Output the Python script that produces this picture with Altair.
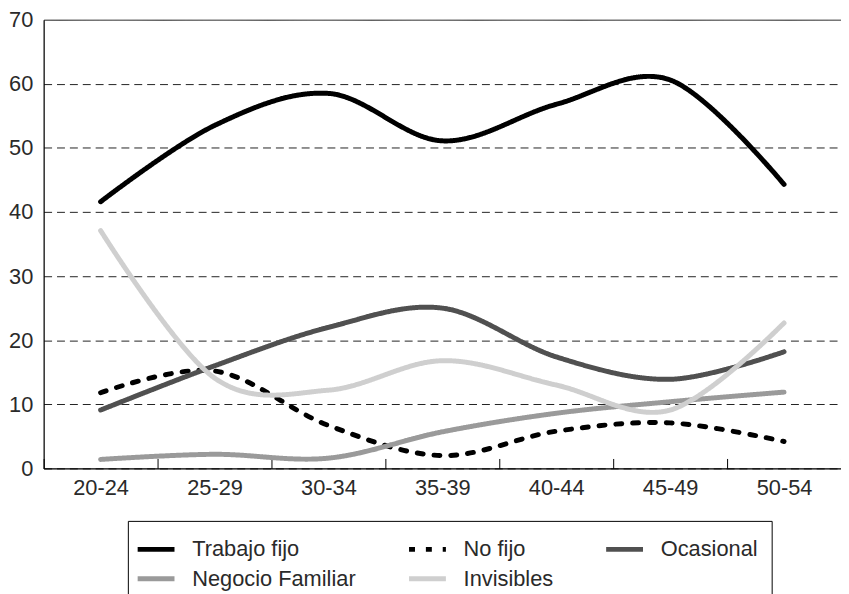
import altair as alt
import pandas as pd

groups = ["20-24", "25-29", "30-34", "35-39", "40-44", "45-49", "50-54"]
series_names = ["Trabajo fijo", "No fijo", "Ocasional", "Negocio Familiar", "Invisibles"]
trabajo_fijo = [41.6, 53.5, 58.5, 51.1, 56.8, 60.6, 44.3]
no_fijo = [11.8, 15.2, 6.7, 2.0, 5.8, 7.1, 4.2]
ocasional = [9.1, 16.0, 22.0, 25.0, 17.4, 13.9, 18.2]
negocio_familiar = [1.4, 2.2, 1.6, 5.7, 8.6, 10.4, 11.9]
invisibles = [37.1, 14.1, 12.2, 16.8, 13.0, 9.1, 22.7]
y_ticks = [0, 10, 20, 30, 40, 50, 60, 70]

colors = ["#000000", "#000000", "#505050", "#9a9a9a", "#cfcfcf"]
dashes = [[1, 0], [6, 11], [1, 0], [1, 0], [1, 0]]

all_series = [trabajo_fijo, no_fijo, ocasional, negocio_familiar, invisibles]
rows = []
for k, (name, vals) in enumerate(zip(series_names, all_series)):
    for i, (g, v) in enumerate(zip(groups, vals)):
        rows.append({"serie": name, "grupo": g, "valor": v, "orden": k})
df = pd.DataFrame(rows)

FONT = "Liberation Sans"
TXT = "#2a2a2a"

legend = alt.Legend(
    title=None, orient="none", legendX=85, legendY=506, columns=3, direction="horizontal",
    symbolType="M-1.55,0L1.55,0", symbolStrokeWidth=5, symbolSize=576,
    labelFontSize=22, labelFont=FONT, labelColor=TXT, labelLimit=400,
    labelOffset=22, columnPadding=42, rowPadding=4, padding=14,
    strokeColor="#000000", fillColor="#ffffff",
)

chart = alt.Chart(df).mark_line(
    interpolate="cardinal", strokeWidth=5, strokeCap="round", strokeJoin="round"
).encode(
    x=alt.X(
        "grupo:N", sort=groups,
        scale=alt.Scale(type="band", domain=groups, paddingInner=0, paddingOuter=0),
        axis=alt.Axis(
            title=None, tickBand="extent", tickSize={"expr": "-10"},
            tickColor="#000000", tickWidth=1, domainColor="#000000", domainWidth=1.2,
            labelFontSize=22, labelFont=FONT, labelColor=TXT, labelPadding=19,
            grid=False, labelAngle=0,
        ),
    ),
    y=alt.Y(
        "valor:Q",
        scale=alt.Scale(domain=[0, 70], nice=False),
        axis=alt.Axis(
            title=None, values=y_ticks, ticks=False, domainColor="#000000", domainWidth=1.2,
            labelFontSize=22, labelFont=FONT, labelColor=TXT, labelPadding=11,
            grid=True, gridColor="#222222", gridWidth=1,
            gridDash=alt.condition("datum.value == 70", alt.value([1, 0]), alt.value([8, 5])),
        ),
    ),
    color=alt.Color("serie:N", scale=alt.Scale(domain=series_names, range=colors), legend=legend),
    strokeDash=alt.StrokeDash("serie:N", scale=alt.Scale(domain=series_names, range=dashes), legend=legend),
    order=alt.Order("orden:Q"),
).properties(
    width=805, height=453,
    autosize=alt.AutoSizeParams(type="none"),
    padding={"left": 36, "top": 9, "right": 0, "bottom": 124},
).configure_view(stroke=None).configure(background="#ffffff")

chart.save("out.html", embed_options={"renderer": "svg", "actions": False})
